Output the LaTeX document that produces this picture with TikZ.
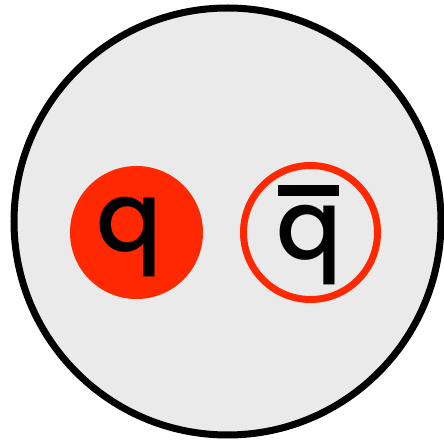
\documentclass[tikz,border=0pt]{standalone}
\usepackage{fontspec}
\setmainfont{Poppins}[BoldFont={* Medium}]
\definecolor{qred}{RGB}{255,40,0}
\definecolor{bggray}{RGB}{234,234,234}
\begin{document}
\begin{tikzpicture}[x=1pt,y=1pt,
  quark/.style={circle,minimum size=133pt,inner sep=0pt},
  label/.style={inner sep=0pt,anchor=base,font=\fontsize{97}{97}\selectfont\bfseries}]
\useasboundingbox (0,0) rectangle (444,439);
\node[circle,draw=black,line width=7pt,fill=bggray,minimum size=427pt,inner sep=0pt] (hadron) at (227.5,217.5) {};
\node[quark,fill=qred] (q) at (136.5,206.5) {};
\node[quark,draw=qred,line width=7pt,minimum size=134pt] (qbar) at (310.5,206.5) {};
\node[label] (qt) at (129,187) {q};
\node[label] (qbt) at (309.5,179) {q};
\fill[black] (278,243) rectangle (339,254);
\end{tikzpicture}
\end{document}
